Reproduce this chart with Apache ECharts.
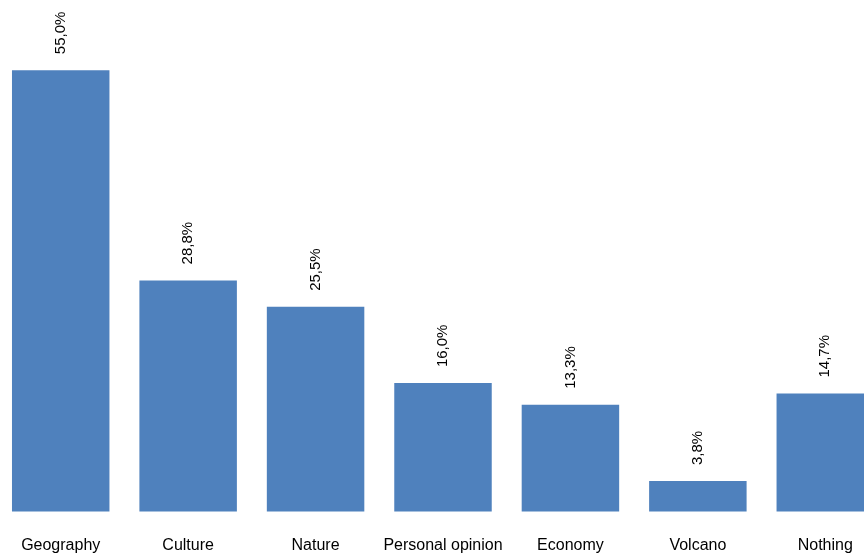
<!DOCTYPE html>
<html>
<head>
<meta charset="utf-8">
<script src="https://cdn.jsdelivr.net/npm/echarts@6/dist/echarts.min.js"></script>
<style>
  html, body { margin: 0; padding: 0; background: #ffffff; overflow: hidden; width: 864px; height: 554px; }
  /* the plot runs a little past both page edges, so the last bar is clipped on the right */
  #chart { width: 892px; height: 554px; margin-left: -3.4px; }
</style>
</head>
<body>
<div id="chart"></div>
<script>
// Share of answers per topic (percent)
const categories = ['Geography', 'Culture', 'Nature', 'Personal opinion', 'Economy', 'Volcano', 'Nothing'];
const shares = [55.0, 28.8, 25.5, 16.0, 13.3, 3.8, 14.7];

const FONT = "'Liberation Sans Narrow', 'Arial Narrow', 'Liberation Sans', Arial, sans-serif";

const chart = echarts.init(document.getElementById('chart'));
chart.setOption({
  animation: false,
  grid: { left: 0, right: 0, top: 30, bottom: 42.5, containLabel: false },
  xAxis: {
    type: 'category',
    data: categories,
    axisLine: { show: false },
    axisTick: { show: false },
    axisLabel: {
      interval: 0,
      margin: 26,
      color: '#000000',
      fontFamily: FONT,
      fontSize: 16
    }
  },
  yAxis: {
    type: 'value',
    min: 0,
    max: 60,
    show: false,
    splitLine: { show: false }
  },
  series: [{
    type: 'bar',
    data: shares,
    barCategoryGap: '23.5%',
    itemStyle: { color: '#4f81bd' },
    label: {
      show: true,
      position: 'top',
      rotate: 90,
      align: 'left',
      verticalAlign: 'middle',
      distance: 16,
      color: '#000000',
      fontFamily: FONT,
      fontSize: 15,
      formatter: p => p.value.toFixed(1).replace('.', ',') + '%'
    }
  }]
});
</script>
</body>
</html>
